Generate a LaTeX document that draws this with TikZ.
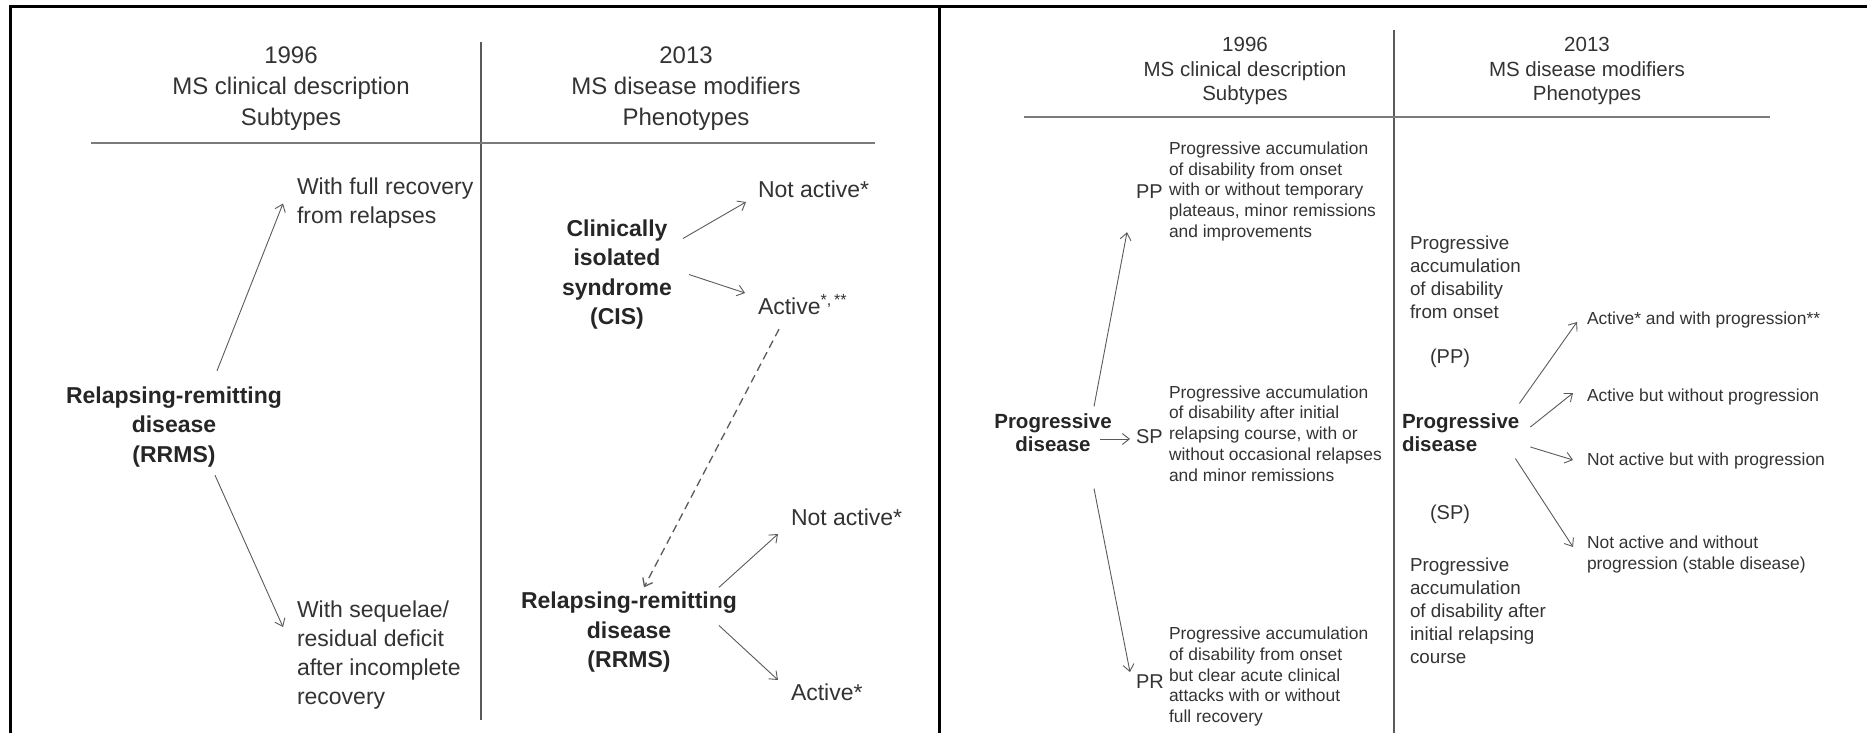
\documentclass[tikz,border=0pt]{standalone}
\usepackage{fontspec}
\setmainfont{Liberation Sans}
\usetikzlibrary{arrows.meta}
\definecolor{txt}{HTML}{333333}
\definecolor{ln}{HTML}{5A5A5A}
\begin{document}
\begin{tikzpicture}[x=1pt,y=-1pt,
  every node/.style={inner sep=0pt, outer sep=0pt, text=txt},
  hdrL/.style={align=center, font=\fontsize{24}{31}\selectfont},
  boldL/.style={align=center, font=\fontsize{23}{29.5}\selectfont\bfseries, text=black!85},
  regL/.style={align=left, anchor=west, font=\fontsize{23}{29}\selectfont},
  hdrR/.style={align=center, font=\fontsize{20.5}{24.5}\selectfont},
  boldR/.style={font=\fontsize{20.5}{23}\selectfont\bfseries, text=black!85},
  smallR/.style={align=left, anchor=west, font=\fontsize{17.4}{20.8}\selectfont},
  midR/.style={align=left, anchor=west, font=\fontsize{18.8}{23}\selectfont},
  labR/.style={font=\fontsize{20}{24}\selectfont},
  frame/.style={line width=3pt, black},
  divider/.style={line width=1.3pt, ln},
  arr/.style={line width=0.9pt, ln, -{Straight Barb[length=7pt,width=11pt]}},
  dasharr/.style={line width=1.3pt, ln, dash pattern=on 8pt off 5pt, -{Straight Barb[length=7pt,width=11pt]}}
]
\useasboundingbox (0,0) rectangle (1867,733);
% frame
\draw[frame] (10,733) -- (10,7) -- (1867,7);
\draw[frame] (939,7) -- (939,733);

% ---------------- left panel ----------------
\draw[divider] (481,42) -- (481,720);
\draw[divider, line width=1.8pt, ln!80] (91,143) -- (875,143);
\node[hdrL] (h1L) at (291,89) {1996\\MS clinical description\\Subtypes};
\node[hdrL] (h2L) at (686,89) {2013\\MS disease modifiers\\Phenotypes};

\node[boldL] (rrmsL) at (174,427) {Relapsing-remitting\\disease\\(RRMS)};
\node[regL] (fullrec) at (297,203.5) {With full recovery\\from relapses};
\node[regL] (seq) at (297,655) {With sequelae/\\residual deficit\\after incomplete\\recovery};
\draw[arr] ([xshift=43pt,yshift=16pt]rrmsL.north) -- ([xshift=-14pt]fullrec.west);
\draw[arr] ([xshift=41pt,yshift=-8pt]rrmsL.south) -- ([xshift=-14pt,yshift=28pt]seq.west);

\node[boldL] (cis) at (617,274.5) {Clinically\\isolated\\syndrome\\(CIS)};
\node[regL] (na1) at (758,189) {Not active*};
\node[regL] (ac1) at (758,305) {Active\textsuperscript{*,\,**}};
\draw[arr] ([xshift=11pt,yshift=36pt]cis.east) -- ([xshift=-12pt,yshift=-13pt]na1.west);
\draw[arr] ([xshift=17pt]cis.east) -- ([xshift=-13pt,yshift=12pt]ac1.west);

\node[boldL] (rrmsR) at (629,632.5) {Relapsing-remitting\\disease\\(RRMS)};
\node[regL] (na2) at (791,517) {Not active*};
\node[regL] (ac2) at (791,692) {Active*};
\draw[arr] ([xshift=-18pt,yshift=5pt]rrmsR.north east) -- ([xshift=-13pt,yshift=-17pt]na2.west);
\draw[arr] ([xshift=-18pt,yshift=7pt]rrmsR.east) -- ([xshift=-13pt,yshift=12pt]ac2.west);
\draw[dasharr] ([xshift=21pt,yshift=-14pt]ac1.south west) -- ([xshift=15pt,yshift=5pt]rrmsR.north);

% ---------------- right panel ----------------
\draw[divider] (1394,30) -- (1394,733);
\draw[divider, line width=1.8pt, ln!80] (1024,117) -- (1770,117);
\node[hdrR] (h1R) at (1245,71) {1996\\MS clinical description\\Subtypes};
\node[hdrR] (h2R) at (1587,71) {2013\\MS disease modifiers\\Phenotypes};

\node[boldR, align=center] (progL) at (1053,432.5) {Progressive\\disease};
\node[labR, anchor=west] (PP) at (1136,192) {PP};
\node[labR, anchor=west] (SP) at (1136,437) {SP};
\node[labR, anchor=west] (PR) at (1136,682) {PR};
\node[smallR] (ppT) at (1169,191.5) {Progressive accumulation\\of disability from onset\\with or without temporary\\plateaus, minor remissions\\and improvements};
\node[smallR] (spT) at (1169,433.5) {Progressive accumulation\\of disability after initial\\relapsing course, with or\\without occasional relapses\\and minor remissions};
\node[smallR] (prT) at (1169,676.5) {Progressive accumulation\\of disability from onset\\but clear acute clinical\\attacks with or without\\full recovery};
\draw[arr] ([xshift=41pt,yshift=7pt]progL.north) -- ([xshift=-42pt,yshift=9pt]ppT.south west);
\draw[arr] ([xshift=-11.5pt,yshift=-6.5pt]progL.east) -- ([xshift=-6pt,yshift=-2pt]SP.west);
\draw[arr] ([xshift=41pt,yshift=-37pt]progL.south) -- ([xshift=-6pt,yshift=3pt]PR.north west);

\node[boldR, align=left, anchor=west] (progR) at (1402,432.5) {Progressive\\disease};
\node[midR] (ppR) at (1410,277.5) {Progressive\\accumulation\\of disability\\from onset};
\node[labR] (ppL) at (1450,358) {(PP)};
\node[labR] (spL) at (1450,514) {(SP)};
\node[midR] (spR) at (1410,610.5) {Progressive\\accumulation\\of disability after\\initial relapsing\\course};
\node[smallR] (a1) at (1587,320) {Active* and with progression**};
\node[smallR] (a2) at (1587,397) {Active but without progression};
\node[smallR] (a3) at (1587,461) {Not active but with progression};
\node[smallR] (a4) at (1587,554.5) {Not active and without\\progression (stable disease)};
\draw[arr] ([yshift=10pt]progR.north east) -- ([xshift=-10pt,yshift=-2pt]a1.west);
\draw[arr] ([xshift=11pt,yshift=5.5pt]progR.east) -- ([xshift=-14pt,yshift=4pt]a2.west);
\draw[arr] ([xshift=11pt,yshift=-14.5pt]progR.east) -- ([xshift=-14pt,yshift=1pt]a3.west);
\draw[arr] ([xshift=-4pt,yshift=-7pt]progR.south east) -- ([xshift=-14pt,yshift=7.5pt]a4.west);
\end{tikzpicture}
\end{document}
